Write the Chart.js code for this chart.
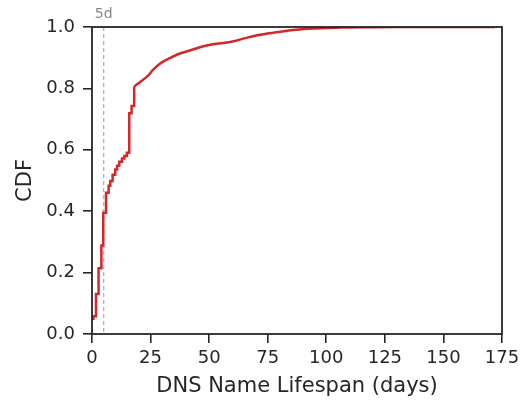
<!DOCTYPE html>
<html>
<head>
<meta charset="utf-8">
<script src="https://cdn.jsdelivr.net/npm/chart.js@4"></script>
<style>
  body { margin: 0; background: #fff; }
  #wrap { width: 526px; height: 404px; }
</style>
</head>
<body>
<div id="wrap"><canvas id="cdfChart"></canvas></div>
<script>
// early part of the CDF: clear steps (lifespan in days, CDF value reached there)
var stepDays = [0, 0.6, 1.7, 2.8, 4.0, 4.8, 6.0, 7.1, 7.8, 8.8, 9.9, 10.7, 11.6, 12.8, 13.8, 14.9,
  15.9, 16.9, 18.0];
var stepCdf = [0.05, 0.058, 0.13, 0.214, 0.288, 0.395, 0.46, 0.483, 0.498, 0.519, 0.536, 0.548, 0.561, 0.572, 0.58, 0.59,
  0.719, 0.743, 0.806];
// tail of the CDF: many tiny steps, reads as a smooth curve
var tailDays = [18.0, 19.5, 21, 23, 24.5, 26, 28.7, 31, 33, 37, 41, 44.4, 48, 51.5, 56, 60, 65, 71,
  78, 87, 95, 107, 120, 140, 172];
var tailCdf = [0.806, 0.815, 0.823, 0.835, 0.846, 0.86, 0.879, 0.89, 0.898, 0.912, 0.922, 0.93, 0.938, 0.944, 0.948, 0.953, 0.963, 0.974,
  0.982, 0.991, 0.995, 0.998, 0.999, 1.0, 1.0];
var xTicks = [0, 25, 50, 75, 100, 125, 150, 175];
var yTicks = [0.0, 0.2, 0.4, 0.6, 0.8, 1.0];
var markerDay = 5;
var markerLabel = '5d';

function toPoints(xs, ys) {
  var pts = [];
  for (var i = 0; i < xs.length; i++) {
    pts.push({x: xs[i], y: ys[i]});
  }
  return pts;
}

var textColor = '#262626';
var lineRed = '#d62728';

// box around plot + 5 day marker line
var framePlugin = {
  id: 'frame',
  beforeDatasetsDraw: function(chart) {
    var ctx = chart.ctx, a = chart.chartArea;
    var x = chart.scales.x.getPixelForValue(markerDay);
    ctx.save();
    ctx.strokeStyle = '#aaaaaa';
    ctx.lineWidth = 1.2;
    ctx.setLineDash([4, 3]);
    ctx.beginPath();
    ctx.moveTo(x, a.top);
    ctx.lineTo(x, a.bottom);
    ctx.stroke();
    ctx.setLineDash([]);
    ctx.fillStyle = '#888888';
    ctx.font = '14px "DejaVu Sans"';
    ctx.textAlign = 'center';
    ctx.textBaseline = 'bottom';
    ctx.fillText(markerLabel, x, a.top - 6);
    ctx.restore();
  },
  afterDraw: function(chart) {
    var ctx = chart.ctx, a = chart.chartArea;
    ctx.save();
    ctx.strokeStyle = textColor;
    ctx.lineWidth = 1.8;
    ctx.strokeRect(a.left, a.top, a.right - a.left, a.bottom - a.top);
    ctx.restore();
  }
};

var config = {
  type: 'line',
  data: {
    datasets: [{
      label: 'CDF steps',
      data: toPoints(stepDays, stepCdf),
      borderColor: lineRed,
      borderWidth: 2.5,
      stepped: 'before',
      pointRadius: 0,
      fill: false
    }, {
      label: 'CDF tail',
      data: toPoints(tailDays, tailCdf),
      borderColor: lineRed,
      borderWidth: 2.5,
      tension: 0.3,
      pointRadius: 0,
      fill: false
    }]
  },
  options: {
    responsive: true,
    maintainAspectRatio: false,
    animation: false,
    layout: { padding: { top: 27, right: 24, left: 0, bottom: 0 } },
    plugins: { legend: { display: false }, tooltip: { enabled: false } },
    scales: {
      x: {
        type: 'linear',
        min: 0,
        max: 175,
        afterBuildTicks: function(scale) {
          scale.ticks = xTicks.map(function(v) { return {value: v}; });
        },
        afterFit: function(scale) { scale.height = 70; },
        grid: { drawOnChartArea: false, drawTicks: true, tickLength: 9, tickColor: textColor, lineWidth: 1.6 },
        border: { display: false },
        ticks: { color: textColor, font: { family: 'DejaVu Sans', size: 18 }, padding: 5, maxRotation: 0 },
        title: { display: true, text: 'DNS Name Lifespan (days)', color: textColor,
                 font: { family: 'DejaVu Sans', size: 21 }, padding: { top: 0, bottom: 5 } }
      },
      y: {
        min: 0,
        max: 1,
        afterBuildTicks: function(scale) {
          scale.ticks = yTicks.map(function(v) { return {value: v}; });
        },
        afterFit: function(scale) { scale.width = 92; },
        grid: { drawOnChartArea: false, drawTicks: true, tickLength: 9, tickColor: textColor, lineWidth: 1.6 },
        border: { display: false },
        ticks: { color: textColor, font: { family: 'DejaVu Sans', size: 18 }, padding: 8,
                 callback: function(v) { return v.toFixed(1); } },
        title: { display: true, text: 'CDF', color: textColor,
                 font: { family: 'DejaVu Sans', size: 21 }, padding: { top: 13, bottom: 0 } }
      }
    }
  },
  plugins: [framePlugin]
};

var myChart = new Chart(document.getElementById('cdfChart'), config);
</script>
</body>
</html>
